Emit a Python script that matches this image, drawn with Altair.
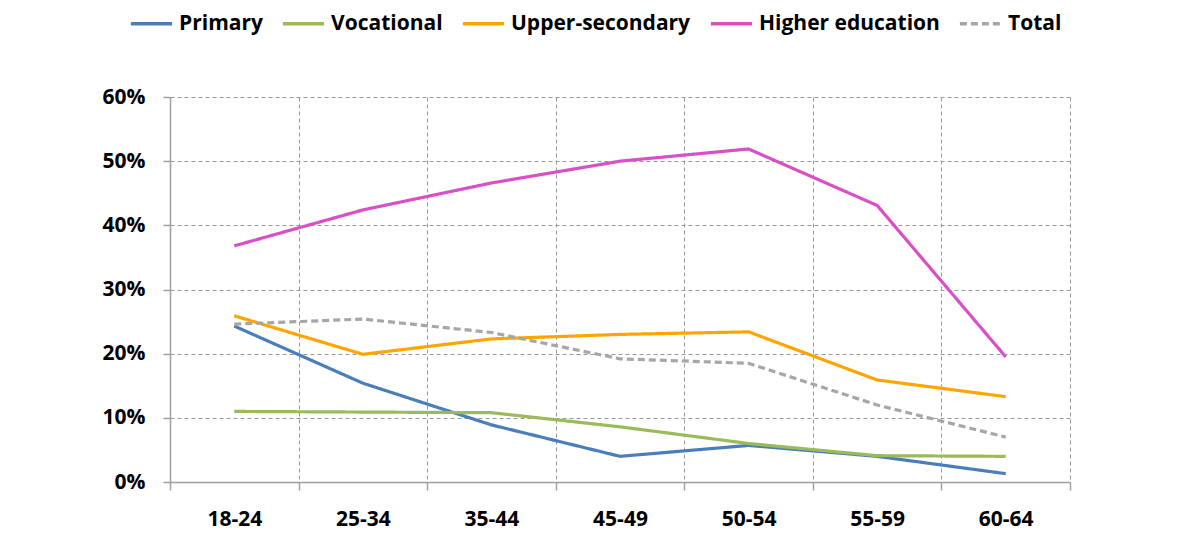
import altair as alt
import pandas as pd

ages = ["18-24", "25-34", "35-44", "45-49", "50-54", "55-59", "60-64"]
series_names = ["Primary", "Vocational", "Upper-secondary", "Higher education", "Total"]
primary = [24.3, 15.4, 8.9, 4.0, 5.7, 4.0, 1.3]
vocational = [11.0, 10.9, 10.8, 8.6, 6.0, 4.1, 4.0]
upper_secondary = [25.9, 19.9, 22.3, 23.0, 23.4, 15.9, 13.3]
higher_education = [36.8, 42.4, 46.6, 50.0, 51.9, 43.1, 19.5]
total = [24.6, 25.4, 23.3, 19.2, 18.5, 12.0, 7.0]
colors = ["#4a7ebb", "#9bbb59", "#ffa500", "#d94fc6", "#a6a6a6"]
dashes = [[1, 0], [1, 0], [1, 0], [1, 0], [7, 4]]

values = [primary, vocational, upper_secondary, higher_education, total]
rows = []
for name, vals in zip(series_names, values):
    for i, (a, v) in enumerate(zip(ages, vals)):
        rows.append({"age": a, "idx": i, "series": name, "value": v / 100})
df = pd.DataFrame(rows)

FONT = "Open Sans"
legend = alt.Legend(
    title=None, orient="none", direction="horizontal", legendX=-41, legendY=-96,
    symbolType="stroke", symbolSize=1700, symbolStrokeWidth=3.5,
    labelFont=FONT, labelFontSize=21, labelFontWeight="bold", labelColor="#000",
    labelOffset=5, columnPadding=12, padding=0, labelLimit=0,
)

chart = alt.Chart(df).mark_line(strokeWidth=3.2).encode(
    x=alt.X("age:N", sort=ages, title=None,
            scale=alt.Scale(paddingInner=0, paddingOuter=0),
            axis=alt.Axis(labelAngle=0, tickBand="extent", grid=True,
                          gridDash=[4, 3], gridColor="#999", gridWidth=1,
                          domainColor="#a0a0a0", domainWidth=1.5,
                          tickColor="#a0a0a0", tickWidth=1.5, tickSize=8,
                          labelPadding=18, labelFont=FONT, labelFontSize=21,
                          labelFontWeight="bold", labelColor="#000")),
    y=alt.Y("value:Q", title=None,
            scale=alt.Scale(domain=[0, 0.6], nice=False),
            axis=alt.Axis(format=".0%", values=[0, 0.1, 0.2, 0.3, 0.4, 0.5, 0.6],
                          grid=True, gridDash=[4, 3], gridColor="#999", gridWidth=1,
                          domainColor="#a0a0a0", domainWidth=1.5,
                          tickColor="#a0a0a0", tickWidth=1.5, tickSize=7,
                          labelPadding=18, labelFont=FONT, labelFontSize=21,
                          labelFontWeight="bold", labelColor="#000")),
    color=alt.Color("series:N", sort=series_names,
                    scale=alt.Scale(domain=series_names, range=colors), legend=legend),
    strokeDash=alt.StrokeDash("series:N", sort=series_names,
                              scale=alt.Scale(domain=series_names, range=dashes), legend=legend),
    order=alt.Order("idx:Q"),
).properties(
    width=900, height=385,
    autosize=alt.AutoSizeParams(type="none"),
    padding={"left": 162, "top": 89, "right": 100, "bottom": 60},
).configure_view(stroke=None)

chart.save("out.html", embed_options={"renderer": "svg", "actions": False})
